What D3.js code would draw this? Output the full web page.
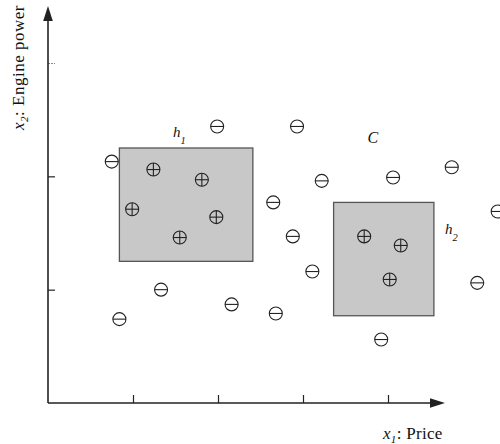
<!DOCTYPE html>
<html><head><meta charset="utf-8">
<script src="https://cdn.jsdelivr.net/npm/d3@7"></script>
<style>body{margin:0;background:#fff}svg{display:block}text{font-family:"Liberation Serif","Times New Roman",serif;fill:#111}</style>
</head><body>
<svg id="c" width="500" height="444"></svg>
<script>
// Data (value units; tick spacing = 1)
const xTicks = [1, 2, 3, 4];
const yTicks = [1, 2, 3];
const minusX = [0.75, 1.99, 2.93, 3.22, 4.06, 4.75, 2.65, 5.29, 2.88, 3.11, 5.05, 1.33, 0.84, 2.16, 2.68, 3.92];
const minusY = [2.13, 2.44, 2.44, 1.96, 1.99, 2.08, 1.77, 1.69, 1.47, 1.16, 1.06, 1.00, 0.74, 0.87, 0.79, 0.56];
const plusX = [1.24, 1.81, 0.99, 1.98, 1.55, 3.72, 4.15, 4.02];
const plusY = [2.06, 1.97, 1.71, 1.64, 1.46, 1.47, 1.39, 1.09];
const rectNames = ["h1", "h2"];
const rectX0 = [0.84, 3.36], rectX1 = [2.41, 4.54];
const rectY0 = [1.25, 0.77], rectY1 = [2.25, 1.77];

const svg = d3.select("#c");
const x = d3.scaleLinear().domain([0, 4]).range([48, 388]);
const y = d3.scaleLinear().domain([0, 3]).range([403, 63]);
const ink = "#222";

// rectangles
svg.selectAll("rect.h").data(rectNames).join("rect")
  .attr("x", (d,i) => x(rectX0[i])).attr("y", (d,i) => y(rectY1[i]))
  .attr("width", (d,i) => x(rectX1[i]) - x(rectX0[i]))
  .attr("height", (d,i) => y(rectY0[i]) - y(rectY1[i]))
  .attr("fill", "#c8c8c8").attr("stroke", "#555").attr("stroke-width", 1.3);

// axes
const xAxis = d3.axisTop(x).tickValues(xTicks).tickSize(8).tickFormat("");
const gx = svg.append("g").attr("transform", `translate(0,${y(0)})`).call(xAxis);
gx.select(".domain").remove();
gx.selectAll("line").attr("stroke", ink).attr("stroke-width", 1.2);
const yAxis = d3.axisRight(y).tickValues(yTicks).tickSize(7).tickFormat("");
const gy = svg.append("g").attr("transform", `translate(${x(0)},0)`).call(yAxis);
gy.select(".domain").remove();
gy.selectAll("line").attr("stroke", ink).attr("stroke-width", 1.2);
gy.selectAll(".tick").filter(d => d === 3).select("line").attr("stroke", "#888").attr("stroke-dasharray", "2,1");

const xEnd = 445, yEnd = 6;
svg.append("line").attr("x1", x(0)).attr("y1", y(0)).attr("x2", xEnd - 10).attr("y2", y(0)).attr("stroke", ink).attr("stroke-width", 1.6);
svg.append("line").attr("x1", x(0)).attr("y1", y(0)).attr("x2", x(0)).attr("y2", yEnd + 10).attr("stroke", ink).attr("stroke-width", 1.6);
svg.append("path").attr("d", `M${xEnd},${y(0)} L${xEnd-15},${y(0)-4.8} L${xEnd-15},${y(0)+4.8} Z`).attr("fill", ink);
svg.append("path").attr("d", `M${x(0)},${yEnd} L${x(0)-4.8},${yEnd+15} L${x(0)+4.8},${yEnd+15} Z`).attr("fill", ink);

// points
const r = 6.5;
function sym(g, xs, ys, plus) {
  const s = g.selectAll(null).data(xs).join("g")
    .attr("transform", (d,i) => `translate(${x(d)},${y(ys[i])})`);
  s.append("circle").attr("r", r).attr("fill", "none").attr("stroke", ink).attr("stroke-width", 1.1);
  s.append("line").attr("x1", -r).attr("x2", r).attr("stroke", ink).attr("stroke-width", 1.1);
  if (plus) s.append("line").attr("y1", -r).attr("y2", r).attr("stroke", ink).attr("stroke-width", 1.1);
}
sym(svg.append("g"), minusX, minusY, false);
sym(svg.append("g"), plusX, plusY, true);

// labels
const lab = (px, py, main, sub, size) => {
  const t = svg.append("text").attr("x", px).attr("y", py).attr("font-size", size).attr("font-style", "italic");
  t.append("tspan").text(main);
  if (sub) t.append("tspan").attr("dy", 7).attr("font-size", size * 0.7).text(sub);
};
lab(x(1.47), y(2.35), "h", "1", 15);
lab(x(4.67), y(1.49), "h", "2", 15);
svg.append("text").attr("x", x(3.76)).attr("y", y(2.29)).attr("font-size", 16).attr("font-style", "italic").text("C");

// axis titles
const xt = svg.append("text").attr("x", 383).attr("y", 439).attr("font-size", 17).attr("letter-spacing", 0.3);
xt.append("tspan").attr("font-style", "italic").text("x");
xt.append("tspan").attr("dy", 4).attr("font-size", 11).attr("font-style", "italic").text("1");
xt.append("tspan").attr("dy", -4).text(": Price");

const yt = svg.append("text").attr("transform", "translate(24,130) rotate(-90)").attr("font-size", 17).attr("letter-spacing", 0.5);
yt.append("tspan").attr("font-style", "italic").text("x");
yt.append("tspan").attr("dy", 4).attr("font-size", 11).attr("font-style", "italic").text("2");
yt.append("tspan").attr("dy", -4).text(": Engine power");
</script>
</body></html>
